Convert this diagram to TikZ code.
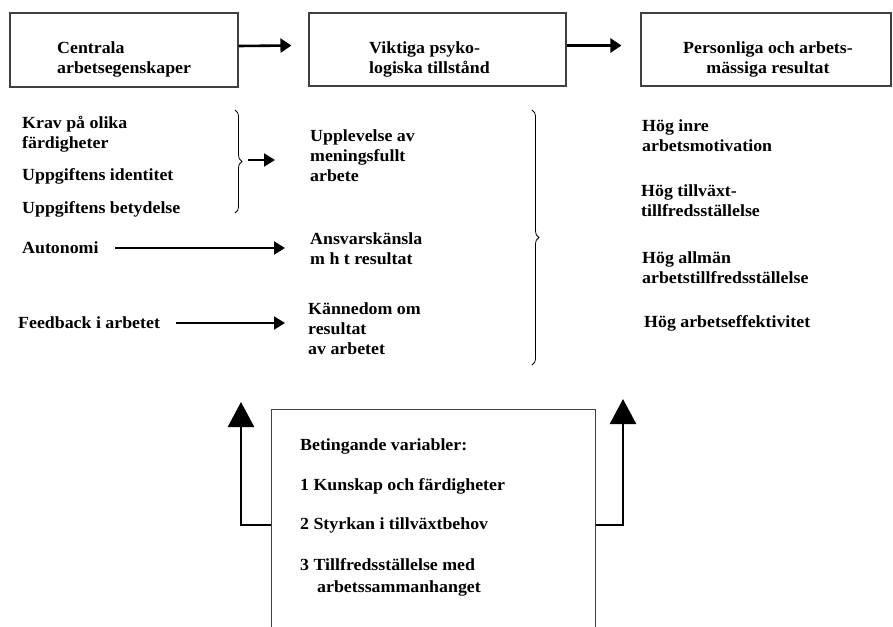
\documentclass[tikz,border=0pt]{standalone}
\usepackage{fontspec}
\setmainfont{Liberation Serif}[FakeStretch=1.05]
\usetikzlibrary{arrows.meta,decorations.pathreplacing}
\begin{document}
\begin{tikzpicture}[x=1pt, y=-1pt,
	every node/.style={font=\bfseries\fontsize{17}{20}\selectfont, inner sep=0pt, align=left},
	box/.style={draw=black!75, line width=1.1pt},
	txt/.style={anchor=west},
	toparr/.style={line width=2.6pt, -{Triangle[length=11pt,width=14pt]}},
	arr/.style={line width=2pt, -{Triangle[length=11pt,width=13pt]}},
	uparr/.style={line width=2.6pt, -{Triangle[length=25pt,width=26pt]}},
	brc/.style={decorate, decoration={brace, amplitude=7pt}, line width=0.8pt}]
	\useasboundingbox (0,0) rectangle (893,626);
	\clip (0,0) rectangle (893,626);
	\node[box, minimum width=228pt, minimum height=74pt] (cbox) at (124,50) {};
	\node[box, minimum width=257pt, minimum height=73pt] (vbox) at (437.5,49.5) {};
	\node[box, minimum width=250pt, minimum height=73pt] (pbox) at (766,49.5) {};
	\node[txt] (ctxt) at (57,59) {Centrala\\arbetsegenskaper};
	\node[txt] (vtxt) at (369,59) {Viktiga psyko-\\logiska tillstånd};
	\node[align=center] (ptxt) at (768,59) {Personliga och arbets-\\mässiga resultat};
	\draw[toparr] ([yshift=4pt]cbox.east) -- ([xshift=-17pt,yshift=4pt]vbox.west);
	\draw[toparr] ([yshift=4pt]vbox.east) -- ([xshift=-19pt,yshift=4pt]pbox.west);

	\node[txt] (krav) at (22,134) {Krav på olika\\färdigheter};
	\node[txt] (ident) at (22,176) {Uppgiftens identitet};
	\node[txt] (betyd) at (22,209) {Uppgiftens betydelse};
	\node[txt] (auto) at (22,248) {Autonomi};
	\node[txt] (feed) at (18,323) {Feedback i arbetet};

	\node[txt] (upp) at (310,156) {Upplevelse av\\meningsfullt\\arbete};
	\node[txt] (ansv) at (310,249) {Ansvarskänsla\\m h t resultat};
	\node[txt] (kann) at (308,329) {Kännedom om\\resultat\\av arbetet};

	\node[txt] (hog1) at (642,136) {Hög inre\\arbetsmotivation};
	\node[txt] (hog2) at (641,201) {Hög tillväxt-\\tillfredsställelse};
	\node[txt] (hog3) at (642,268) {Hög allmän\\arbetstillfredsställelse};
	\node[txt] (hog4) at (644,323) {Hög arbetseffektivitet};

	\draw[brc] (235,110) -- (235,213);
	\draw[brc] (532,110) -- (532,365);
	\coordinate (btip) at (248,160);
	\draw[arr] (btip) -- ([xshift=-35pt,yshift=-4pt]upp.west);
	\draw[arr, shorten >=25pt] ([xshift=16pt]auto.east) -- (auto.east -| ansv.west);
	\draw[arr, shorten >=23pt] ([xshift=16pt]feed.east) -- (feed.east -| kann.west);

	\node[box, minimum width=324pt, minimum height=240pt, anchor=north west] (bvar) at (271,409) {};
	\node[txt] (bv0) at (300,446) {Betingande variabler:};
	\node[txt] (kun) at (300,486) {1 Kunskap och färdigheter};
	\node[txt] (sty) at (300,525) {2 Styrkan i tillväxtbehov};
	\node[txt] (til) at (300,577) {3 Tillfredsställelse med\\[2pt]\hspace*{17pt}arbetssammanhanget};
	\coordinate (lup) at (241,402);
	\coordinate (rup) at (623,399);
	\draw[uparr] (bvar.west |- sty) -| (lup);
	\draw[uparr] (bvar.east |- sty) -| (rup);
\end{tikzpicture}
\end{document}
